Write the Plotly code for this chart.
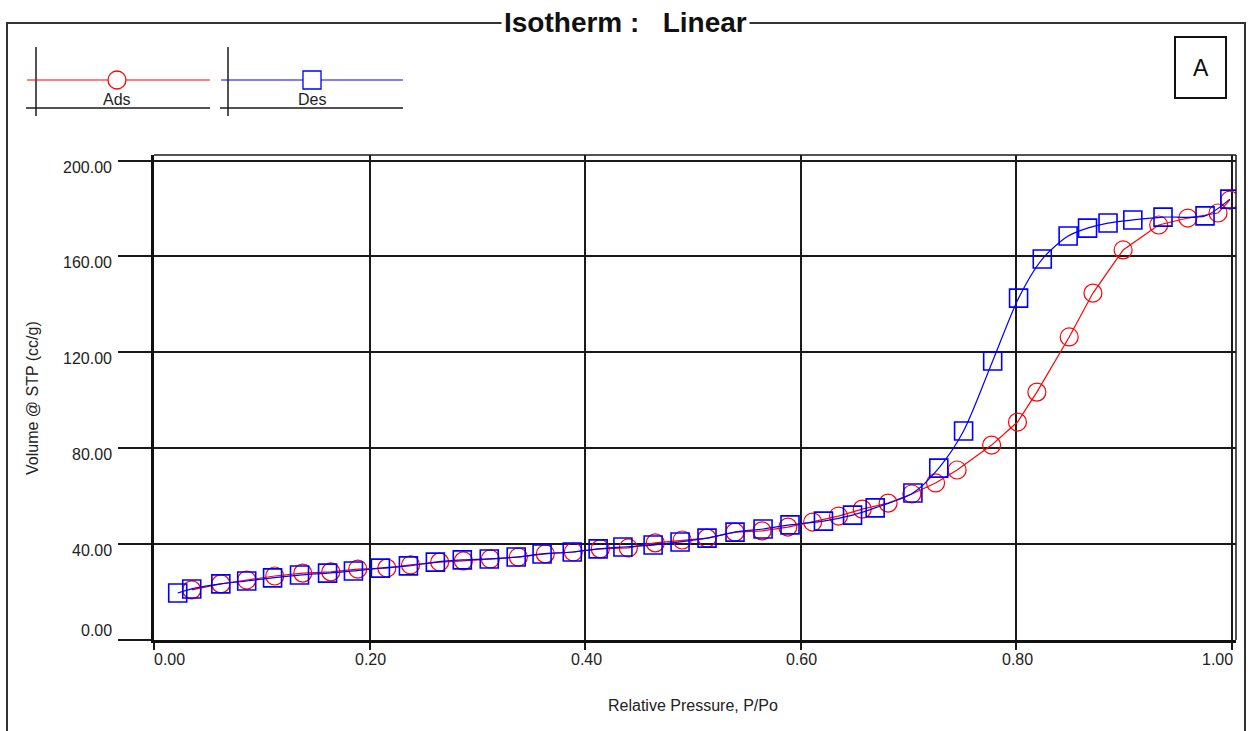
import plotly.graph_objects as go

# ---------------- data ----------------
ads_p = [0.035, 0.062, 0.086, 0.112, 0.138, 0.164, 0.189, 0.216, 0.238, 0.265,
         0.287, 0.312, 0.338, 0.363, 0.389, 0.414, 0.440, 0.465, 0.490, 0.513,
         0.539, 0.564, 0.588, 0.611, 0.635, 0.657, 0.681, 0.703, 0.725, 0.745,
         0.777, 0.801, 0.819, 0.849, 0.871, 0.899, 0.932, 0.959, 0.987, 0.998]
ads_v = [20.9, 23.4, 25.0, 26.7, 27.9, 28.4, 29.6, 30.0, 31.3, 32.5,
         33.0, 33.8, 34.6, 35.9, 36.7, 38.0, 38.4, 40.5, 41.7, 42.5,
         45.0, 45.5, 47.1, 49.2, 51.7, 54.6, 57.1, 60.9, 65.5, 70.9,
         81.3, 90.9, 103.4, 126.4, 144.7, 162.7, 173.1, 176.0, 178.1, 183.5]

des_p = [0.998, 0.975, 0.936, 0.908, 0.885, 0.866, 0.848, 0.824, 0.802, 0.778,
         0.751, 0.728, 0.704, 0.669, 0.648, 0.621, 0.590, 0.565, 0.539, 0.513,
         0.488, 0.463, 0.435, 0.412, 0.388, 0.360, 0.336, 0.311, 0.286, 0.261,
         0.236, 0.210, 0.185, 0.161, 0.135, 0.110, 0.086, 0.062, 0.035, 0.022]
des_v = [183.9, 176.9, 176.4, 175.2, 173.9, 171.8, 168.5, 158.9, 142.6, 116.4,
         87.2, 71.7, 61.3, 55.1, 52.1, 49.6, 48.0, 46.3, 45.0, 42.5,
         40.9, 39.6, 38.8, 38.0, 36.7, 35.9, 34.6, 33.8, 33.4, 32.5,
         30.9, 30.0, 28.8, 27.9, 27.1, 25.9, 24.6, 23.4, 21.3, 19.6]

x_ticks = [0.0, 0.2, 0.4, 0.6, 0.8, 1.0]
x_tick_labels = ["0.00", "0.20", "0.40", "0.60", "0.80", "1.00"]
y_ticks = [0, 40, 80, 120, 160, 200]
y_tick_labels = ["0.00", "40.00", "80.00", "120.00", "160.00", "200.00"]

series_names = ["Ads", "Des"]
title_text = "Isotherm :   Linear"
x_title = "Relative Pressure, P/Po"
y_title = "Volume @ STP (cc/g)"
panel_label = "A"

# ---------------- layout geometry ----------------
W, H = 1251, 731
L, R, T, B = 154, 15, 155, 91
PW, PH = W - L - R, H - T - B
FONT = "Arial, Liberation Sans, sans-serif"
RED = "#ff0000"
BLUE = "#0000ff"
DARK = "#1a1a1a"


def px(xp):
    return (xp - L) / PW


def py(yp):
    return (H - B - yp) / PH


fig = go.Figure()
fig.add_trace(go.Scatter(
    x=ads_p, y=ads_v, name=series_names[0], mode="lines+markers",
    line=dict(color=RED, width=1.2),
    marker=dict(symbol="circle-open", size=18, color=RED, line=dict(width=1.2)),
    showlegend=False))
fig.add_trace(go.Scatter(
    x=des_p, y=des_v, name=series_names[1], mode="lines+markers",
    line=dict(color=BLUE, width=1.2, shape="spline", smoothing=0.8),
    marker=dict(symbol="square-open", size=18, color=BLUE, line=dict(width=1.6)),
    showlegend=False))

shapes = []
# top & right frame of the plot area
shapes.append(dict(type="line", xref="paper", yref="paper", x0=0, x1=1, y0=1, y1=1,
                   line=dict(color=DARK, width=1.5)))
shapes.append(dict(type="line", xref="paper", yref="paper", x0=1, x1=1, y0=0, y1=1,
                   line=dict(color=DARK, width=1.5)))
# outer frame
shapes.append(dict(type="rect", xref="paper", yref="paper",
                   x0=px(7), x1=px(1245), y0=py(745), y1=py(23),
                   line=dict(color="#333333", width=2)))
# panel label box
shapes.append(dict(type="rect", xref="paper", yref="paper",
                   x0=px(1175), x1=px(1226), y0=py(98), y1=py(37),
                   line=dict(color="#111111", width=2), fillcolor="white"))

# custom legend
legend_items = [(series_names[0], RED, "circle", 26, 210, 36, 117),
                (series_names[1], BLUE, "square", 220, 403, 228, 312)]
annotations = []
for name, col, sym, xl, xr, xv, xm in legend_items:
    shapes.append(dict(type="line", xref="paper", yref="paper",
                       x0=px(xv), x1=px(xv), y0=py(116), y1=py(47),
                       line=dict(color=DARK, width=1.5)))
    shapes.append(dict(type="line", xref="paper", yref="paper",
                       x0=px(xl), x1=px(xr), y0=py(108), y1=py(108),
                       line=dict(color=DARK, width=1.5)))
    shapes.append(dict(type="line", xref="paper", yref="paper",
                       x0=px(xl + 1), x1=px(xr), y0=py(80), y1=py(80),
                       line=dict(color=col, width=1.2)))
    shapes.append(dict(type="circle" if sym == "circle" else "rect",
                       xref="paper", yref="paper",
                       x0=px(xm - 9), x1=px(xm + 9), y0=py(89), y1=py(71),
                       line=dict(color=col, width=1.3), fillcolor="white"))
    annotations.append(dict(text=name, xref="paper", yref="paper",
                            x=px(xm), y=py(100), xanchor="center", yanchor="middle",
                            showarrow=False, font=dict(family=FONT, size=16, color="#222")))

# title over the outer frame
annotations.append(dict(text="<b>" + title_text.replace(" ", "&nbsp;") + "</b>",
                        xref="paper", yref="paper", x=px(625), y=py(22),
                        xanchor="center", yanchor="middle", showarrow=False,
                        bgcolor="white", borderpad=2,
                        font=dict(family=FONT, size=28, color="#111")))
annotations.append(dict(text=panel_label, xref="paper", yref="paper",
                        x=px(1201), y=py(68), xanchor="center", yanchor="middle",
                        showarrow=False, font=dict(family=FONT, size=23, color="#111")))
# axis titles
annotations.append(dict(text=x_title, xref="paper", yref="paper", x=px(693), y=py(705),
                        xanchor="center", yanchor="middle", showarrow=False,
                        font=dict(family=FONT, size=16, color="#222")))
annotations.append(dict(text=y_title, xref="paper", yref="paper", x=px(32), y=py(398),
                        xanchor="center", yanchor="middle", showarrow=False, textangle=-90,
                        font=dict(family=FONT, size=16, color="#222")))
# tick labels
for i, (v, t) in enumerate(zip(x_ticks, x_tick_labels)):
    anchor = "left" if i == 0 else ("right" if i == len(x_ticks) - 1 else "center")
    annotations.append(dict(text=t, xref="x", yref="paper", x=v, y=py(659),
                            xanchor=anchor, yanchor="middle", showarrow=False,
                            xshift=(3 if anchor == "right" else (-2 if anchor == "left" else 1)),
                            font=dict(family=FONT, size=16, color="#222")))
for i, (v, t) in enumerate(zip(y_ticks, y_tick_labels)):
    annotations.append(dict(text=t, xref="paper", yref="y", x=px(114), y=v,
                            xanchor="right", yanchor="middle", showarrow=False,
                            yshift=(10 if i == 0 else -6.5),
                            font=dict(family=FONT, size=16, color="#222")))

fig.update_layout(
    width=W, height=H, autosize=False,
    margin=dict(l=L, r=R, t=T, b=B, pad=0),
    paper_bgcolor="white", plot_bgcolor="white",
    showlegend=False,
    shapes=shapes, annotations=annotations,
    xaxis=dict(range=[0, (1236 - L) / 1078], tickvals=x_ticks, showticklabels=False,
               showgrid=True, gridcolor=DARK, gridwidth=1.5, zeroline=False,
               showline=True, linecolor="#111", linewidth=3,
               ticks="outside", ticklen=7, tickwidth=1.5, tickcolor=DARK),
    yaxis=dict(range=[0, (640 - 155) / 2.3975], tickvals=y_ticks, showticklabels=False,
               showgrid=True, gridcolor=DARK, gridwidth=1.5, zeroline=False,
               showline=True, linecolor="#111", linewidth=3,
               ticks="outside", ticklen=33, tickwidth=2, tickcolor=DARK),
)

fig.write_html("out.html")
